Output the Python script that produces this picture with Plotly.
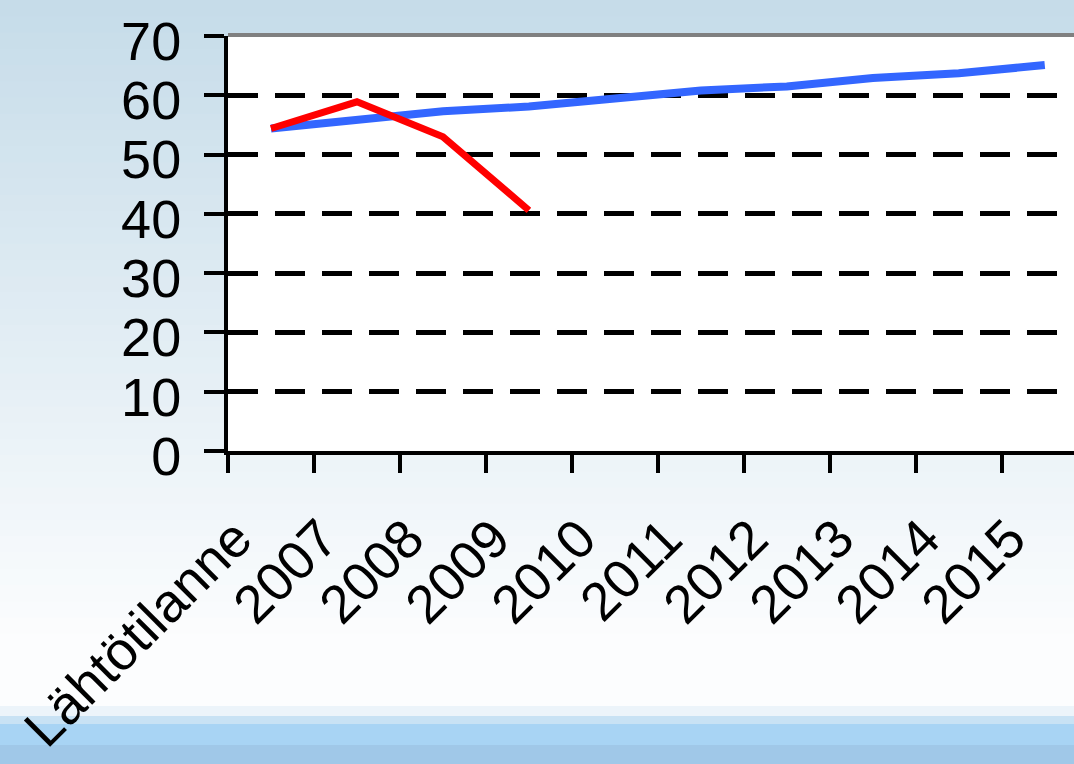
import plotly.graph_objects as go

categories = ["Lähtötilanne", "2007", "2008", "2009", "2010", "2011", "2012", "2013", "2014", "2015"]
red_values = [54.4, 58.9, 53.0, 40.6, None, None, None, None, None, None]
blue_values = [54.4, 55.9, 57.3, 58.1, 59.4, 60.8, 61.5, 62.9, 63.7, 65.1]
y_ticks = [0, 10, 20, 30, 40, 50, 60, 70]

W, H = 1074, 764
fig = go.Figure()

fig.add_trace(go.Scatter(x=categories, y=blue_values, mode="lines",
                         line=dict(color="#3366ff", width=8), showlegend=False))
fig.add_trace(go.Scatter(x=categories, y=red_values, mode="lines",
                         line=dict(color="#ff0000", width=7), showlegend=False))

PT, PH = 36, 415  # plot top and height in px, for paper-coordinate conversion


def py(yp):
    return 1 - (yp - PT) / PH


shapes = []
top = (198, 220, 233)
bottom = (252, 253, 254)
n = 40
grad_end = 650
for i in range(n):
    t = i / (n - 1)
    c = tuple(int(round(top[k] + (bottom[k] - top[k]) * t)) for k in range(3))
    y0 = grad_end * i / n
    y1 = grad_end * (i + 1) / n + 1
    shapes.append(dict(type="rect", xref="paper", yref="paper",
                       x0=-1, x1=2, y0=py(y1), y1=py(y0),
                       fillcolor="rgb(%d,%d,%d)" % c, line=dict(width=0), layer="below"))
bands = [(650, 706, "rgb(252,253,254)"), (706, 716, "rgb(236,244,250)"),
         (716, 724, "rgb(200,226,244)"), (724, 745, "rgb(168,212,244)"),
         (745, 764, "rgb(160,200,232)")]
for y0, y1, col in bands:
    shapes.append(dict(type="rect", xref="paper", yref="paper",
                       x0=-1, x1=2, y0=py(y1), y1=py(y0),
                       fillcolor=col, line=dict(width=0), layer="below"))
shapes.append(dict(type="rect", xref="paper", yref="paper", x0=0, x1=1, y0=0, y1=1,
                   fillcolor="white", line=dict(width=0), layer="below"))
shapes.append(dict(type="line", xref="paper", yref="paper", x0=0, x1=1, y0=py(35), y1=py(35),
                   line=dict(color="#808080", width=4), layer="above"))

fig.update_layout(
    width=W, height=H,
    margin=dict(l=228, r=0, t=PT, b=H - PT - PH),
    paper_bgcolor="white", plot_bgcolor="rgba(0,0,0,0)",
    font=dict(family="Liberation Sans, Arial, sans-serif", size=54, color="black"),
    shapes=shapes,
    showlegend=False,
)
fig.update_xaxes(type="category", range=[-0.5, 9.34], showgrid=False,
                 showline=True, linecolor="black", linewidth=4,
                 ticks="outside", ticklen=18, tickwidth=4, tickcolor="black",
                 tickson="boundaries", tickangle=-45,
                 ticklabelshift=-35, ticklabelstandoff=30,
                 tickfont=dict(size=54, color="black"))
fig.update_yaxes(range=[0, 70], tickvals=y_ticks, showgrid=True,
                 gridcolor="black", gridwidth=5, griddash="30px,17px",
                 zeroline=False, showline=True, linecolor="black", linewidth=4,
                 ticks="outside", ticklen=20, tickwidth=4, tickcolor="black",
                 ticklabelstandoff=12, ticklabelshift=5,
                 tickfont=dict(size=54, color="black"))

fig.write_html("out.html", config={"displayModeBar": False},
               post_script="document.body.style.margin='0';")
